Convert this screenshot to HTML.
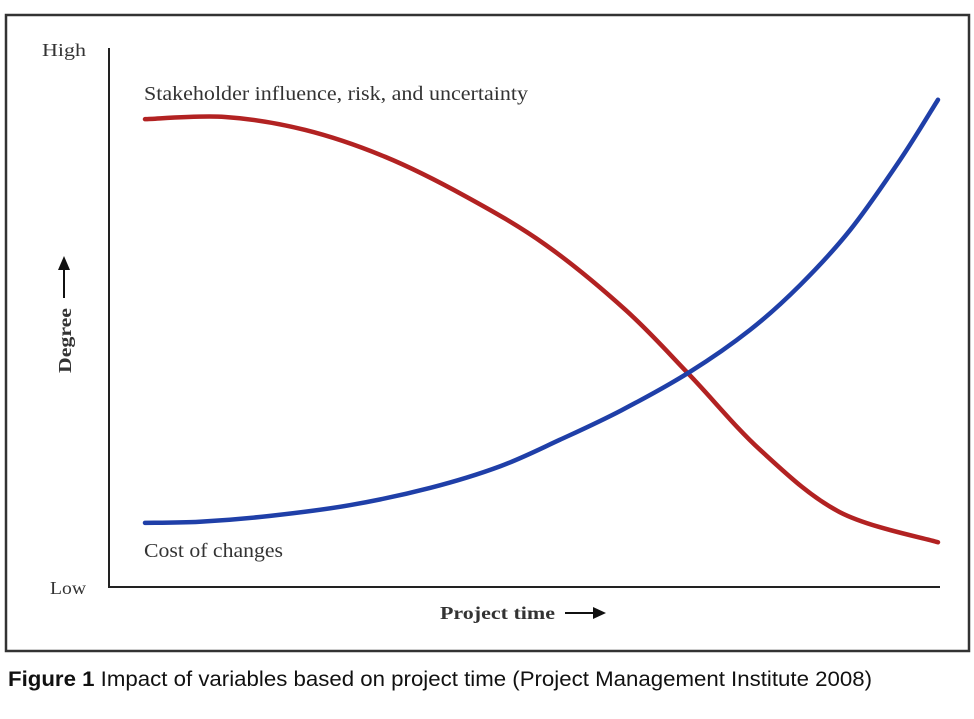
<!DOCTYPE html>
<html><head><meta charset="utf-8"><style>
body{margin:0;background:#fff;width:974px;height:714px;overflow:hidden}
svg text{font-family:"Liberation Serif",serif;fill:#333}
</style></head><body>
<svg width="974" height="714">
<rect x="6" y="15" width="963" height="636" fill="#fff" stroke="#333" stroke-width="2.5"/>
<line x1="109" y1="48" x2="109" y2="588" stroke="#222" stroke-width="2"/>
<line x1="108" y1="587" x2="940" y2="587" stroke="#222" stroke-width="2"/>
<text x="42" y="56" font-size="18" textLength="44" lengthAdjust="spacingAndGlyphs">High</text>
<text x="50" y="594" font-size="18" textLength="36" lengthAdjust="spacingAndGlyphs">Low</text>
<text x="440" y="619" font-size="18" font-weight="bold" textLength="115" lengthAdjust="spacingAndGlyphs">Project time</text>
<g><line x1="565" y1="613" x2="596" y2="613" stroke="#111" stroke-width="2"/><polygon points="606,613 593,607 593,619" fill="#111"/></g>
<text transform="translate(71,373) rotate(-90)" font-size="18" font-weight="bold" textLength="65" lengthAdjust="spacingAndGlyphs">Degree</text>
<g><line x1="64" y1="298" x2="64" y2="268" stroke="#111" stroke-width="2"/><polygon points="64,256 58,270 70,270" fill="#111"/></g>
<text x="144" y="100" font-size="20" textLength="384" lengthAdjust="spacingAndGlyphs">Stakeholder influence, risk, and uncertainty</text>
<text x="144" y="557" font-size="20" textLength="139" lengthAdjust="spacingAndGlyphs">Cost of changes</text>
<g id="series"></g>
<text x="8" y="686" font-size="21" textLength="864" lengthAdjust="spacingAndGlyphs" style="font-family:'Liberation Sans',sans-serif;fill:#111"><tspan font-weight="bold">Figure 1</tspan> Impact of variables based on project time (Project Management Institute 2008)</text>
</svg>
<script>
const redX=[0,10.1,20.2,30.3,40.4,50.5,60.6,68.7,77.6,87.6,100];
const redY=[86.8,87.2,84.8,79.8,72.5,63.5,51.4,39.3,25.4,13.9,8.3];
const blueX=[0,6.9,15.8,25.9,36,44.8,52.3,60.1,68.7,76.3,82.6,88.9,95.2,100];
const blueY=[11.9,12.1,13.2,15.2,18.4,22.4,27.3,32.8,39.9,47.7,56,66.2,79.2,90.4];
const sx=v=>145+v*7.93, sy=v=>587-v*5.39;
function path(xs,ys){
  const p=xs.map((x,i)=>[sx(x),sy(ys[i])]);
  let d=`M${p[0][0]},${p[0][1]}`;
  for(let i=0;i<p.length-1;i++){
    const p0=p[Math.max(i-1,0)],p1=p[i],p2=p[i+1],p3=p[Math.min(i+2,p.length-1)];
    d+=` C${p1[0]+(p2[0]-p0[0])/6},${p1[1]+(p2[1]-p0[1])/6} ${p2[0]-(p3[0]-p1[0])/6},${p2[1]-(p3[1]-p1[1])/6} ${p2[0]},${p2[1]}`;
  }
  return d;
}
const g=document.getElementById('series');
[[redX,redY,'#b22222','stakeholder-curve'],[blueX,blueY,'#1f3fa8','cost-curve']].forEach(s=>{
  const el=document.createElementNS('http://www.w3.org/2000/svg','path');
  el.setAttribute('d',path(s[0],s[1]));
  el.setAttribute('fill','none');el.setAttribute('stroke',s[2]);el.setAttribute('stroke-width','4.5');el.setAttribute('stroke-linecap','round');
  
  
  g.appendChild(el);
});
</script>
</body></html>
